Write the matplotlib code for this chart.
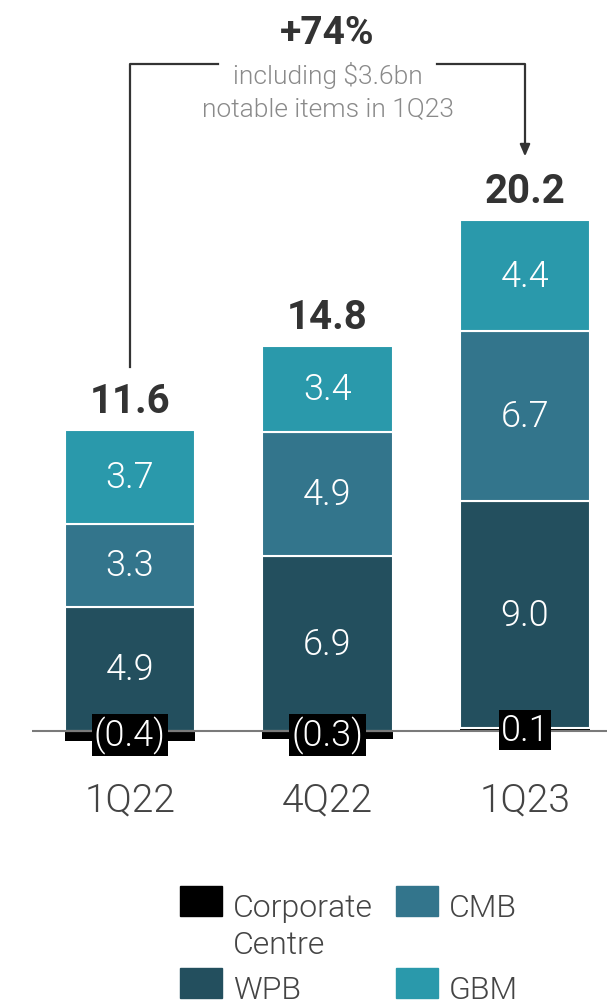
import matplotlib.pyplot as plt
from matplotlib.patches import Rectangle
import numpy as np

plt.rcParams['font.family'] = ['Roboto', 'DejaVu Sans']
LIGHT = 300

# 収益 ($bn)
quarters = ['1Q22', '4Q22', '1Q23']
corp_centre = [-0.4, -0.3, 0.1]
wpb = [4.9, 6.9, 9.0]
cmb = [3.3, 4.9, 6.7]
gbm = [3.7, 3.4, 4.4]
totals = ['11.6', '14.8', '20.2']

col_cc = '#000000'
col_wpb = '#234f5e'
col_cmb = '#33758c'
col_gbm = '#2a99ab'
txt_dark = '#333333'
txt_grey = '#8a8a8a'

W, H = 607, 1004
fig = plt.figure(figsize=(W / 100, H / 100), dpi=100)
ax = fig.add_axes([0, 0, 1, 1])
ax.axis('off')

# 1 unit = 25.3px, baseline at 732px
ppu = 25.3
ax.set_ylim(-(H - 732) / ppu, 732 / ppu)
ax.set_xlim(-130 / 197.5, (W - 130) / 197.5)

x = np.arange(len(quarters))
width = 0.66
cc = np.array(corp_centre)
base = np.clip(cc, 0, None)

# 積み上げ棒
ax.bar(x, cc, width, color=col_cc, edgecolor=col_cc, linewidth=0)
segs = [(wpb, col_wpb), (cmb, col_cmb), (gbm, col_gbm)]
bottom = base.copy()
for vals, c in segs:
    vals = np.array(vals)
    ax.bar(x, vals, width, bottom=bottom, color=c, edgecolor='white', linewidth=1.5)
    for xi, b, v in zip(x, bottom, vals):
        ax.text(xi, b + v / 2, f'{v:.1f}', color='white', fontsize=26,
                fontweight=LIGHT, ha='center', va='center')
    bottom = bottom + vals
tops = bottom

# 基準線
ax.hlines(0, (32 - 130) / 197.5, ax.get_xlim()[1], color='#7a7a7a', lw=1.5, zorder=3)

# Corporate Centre のラベル
for xi, v in zip(x, corp_centre):
    s = f'({abs(v):.1f})' if v < 0 else f'{v:.1f}'
    ax.text(xi, v / 2 if v > 0 else -0.15, s, color='white', fontsize=26,
            fontweight=LIGHT, ha='center', va='center', zorder=5,
            bbox=dict(boxstyle='square,pad=0.06', fc='black', ec='none'))

# 合計
for xi, t, s in zip(x, tops, totals):
    ax.text(xi, t + 1.15, s, color=txt_dark, fontsize=29, fontweight='bold',
            ha='center', va='center')

# カテゴリ
for xi, q in zip(x, quarters):
    ax.text(xi, -2.7, q, color='#444444', fontsize=28, fontweight=LIGHT,
            ha='center', va='center')

# 増減の注記と矢印
y_top = 26.36
gap = 0.555
mid = (x[0] + x[-1]) / 2
ax.plot([x[0], x[0], mid - gap], [tops[0] + 2.5, y_top, y_top], color=txt_dark, lw=1.6)
ax.plot([mid + gap, x[-1], x[-1]], [y_top, y_top, tops[-1] + 3.0], color=txt_dark, lw=1.6)
ax.annotate('', xy=(x[-1], tops[-1] + 2.4), xytext=(x[-1], tops[-1] + 3.1),
            arrowprops=dict(arrowstyle='-|>,head_length=0.7,head_width=0.3',
                            color=txt_dark, lw=1.6))
ax.text(mid, 27.6, '+74%', color=txt_dark, fontsize=28, fontweight='bold',
        ha='center', va='center')
ax.text(mid, 25.95, 'including $3.6bn', color=txt_grey, fontsize=19,
        fontweight=LIGHT, ha='center', va='center')
ax.text(mid, 24.62, 'notable items in 1Q23', color=txt_grey, fontsize=19,
        fontweight=LIGHT, ha='center', va='center')

# 凡例
def fx(px):
    return px / W

def fy(py):
    return 1 - py / H

legend_items = [
    (['Corporate', 'Centre'], col_cc, 180, 887),
    (['CMB'], col_cmb, 396, 887),
    (['WPB'], col_wpb, 180, 969),
    (['GBM'], col_gbm, 396, 969),
]
for lines, c, lx, ly in legend_items:
    fig.patches.append(Rectangle((fx(lx), fy(ly + 30)), 42 / W, 30 / H,
                                 transform=fig.transFigure, color=c))
    for i, line in enumerate(lines):
        fig.text(fx(lx + 53), fy(ly + 30 + 37 * i), line, color='#444444',
                 fontsize=23, fontweight=LIGHT, ha='left', va='baseline')

fig.savefig('out.png', dpi=100)
